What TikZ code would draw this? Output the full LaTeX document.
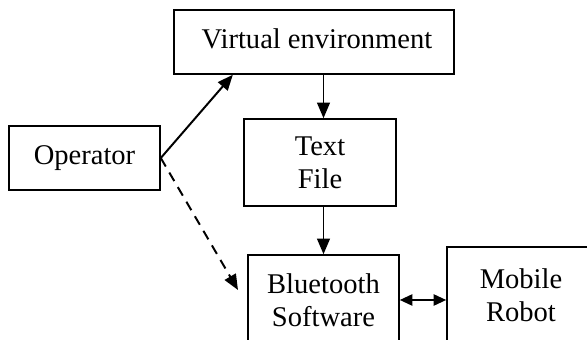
\documentclass[tikz,border=0pt]{standalone}
\usepackage{fontspec}
\setmainfont{Liberation Serif}
\usetikzlibrary{arrows.meta}

\tikzset{
  kasten/.style={draw, line width=1.1pt, align=center, inner sep=0pt,
    font=\fontsize{20.3}{23.5}\selectfont},
  pfeil/.style={line width=1.4pt, -{Triangle[length=11pt,width=9pt]}},
}

\begin{document}
\begin{tikzpicture}[x=0.025cm, y=-0.025cm]
\useasboundingbox (0,0) rectangle (587,340);

% Kaesten
\node[kasten, minimum width=3.775cm, minimum height=1.6cm] (op) at (84.5,158) {Operator};
\node[kasten, minimum width=7cm, minimum height=1.6cm] (ve) at (314,42) {\hspace{0.15cm}Virtual environment\vphantom{y}};
\node[kasten, minimum width=3.8cm, minimum height=2.175cm] (tf) at (320,162.5) {Text\\File};
\node[kasten, minimum width=3.775cm, minimum height=2.25cm] (bt) at (323.5,300) {Bluetooth\\Software};
\node[kasten, minimum width=3.7cm, minimum height=2.4cm] (mr) at (521,295) {Mobile\\Robot};
\coordinate (btin) at (238,290);

% Pfeile
\draw[pfeil] (op.east) -- (ve.202.8);
\draw[pfeil, dash pattern=on 7pt off 5pt] (op.east) -- (btin);
\draw[pfeil] (ve.south -| bt.north) -- (tf.north -| bt.north);
\draw[pfeil] (tf.south -| bt.north) -- (bt.north);
\draw[pfeil, {Triangle[length=9pt,width=8pt]}-{Triangle[length=9pt,width=8pt]}]
      (bt.east) -- (bt.east -| mr.west);

\end{tikzpicture}
\end{document}
